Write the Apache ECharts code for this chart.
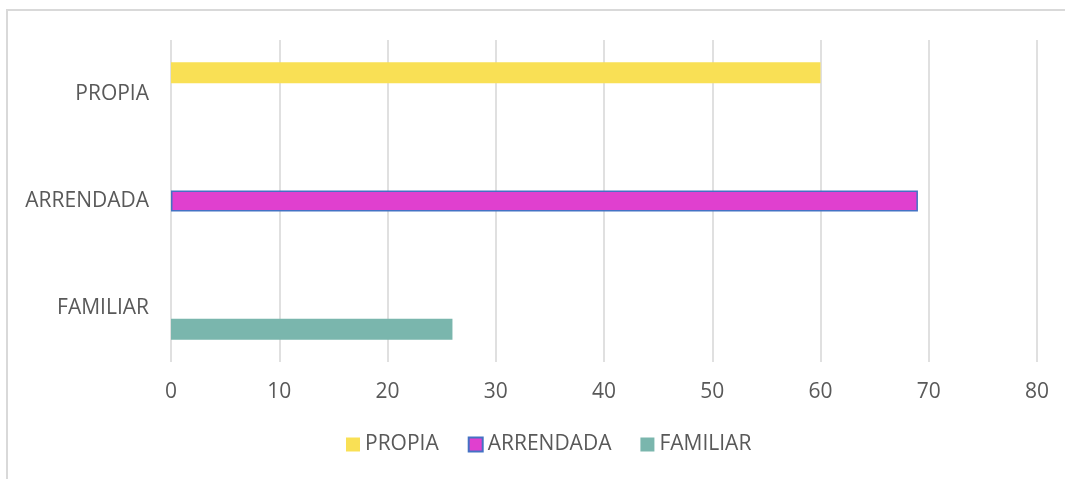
<!DOCTYPE html>
<html>
<head>
<meta charset="utf-8">
<script src="https://cdn.jsdelivr.net/npm/echarts@6/dist/echarts.min.js"></script>
<style>
  html, body { margin: 0; padding: 0; background: #fff; overflow: hidden; }
  #chart { width: 1065px; height: 479px; }
</style>
</head>
<body>
<div id="chart"></div>
<script>
// categories bottom -> top, as the y axis draws them
const categories = ['FAMILIAR', 'ARRENDADA', 'PROPIA']
const seriesNames = ['PROPIA', 'ARRENDADA', 'FAMILIAR']
const propiaValues = [null, null, 60]
const arrendadaValues = [null, 69, null]
const familiarValues = [26, null, null]
const xTicks = [0, 80, 10]

const chart = echarts.init(document.getElementById('chart'))
const font = '"Open Sans", "DejaVu Sans", sans-serif'

const option = {
  animation: false,
  textStyle: { fontFamily: font },
  graphic: [{
    type: 'rect',
    shape: { x: 7, y: 10, width: 1100, height: 500 },
    style: { fill: 'none', stroke: '#d9d9d9', lineWidth: 2 },
    silent: true
  }],
  grid: { left: 171, right: 28, top: 40, bottom: 117 },
  legend: {
    data: seriesNames,
    icon: 'rect',
    bottom: 19,
    left: 341,
    itemWidth: 14,
    itemHeight: 14,
    itemGap: 29,
    textStyle: { fontSize: 21, color: '#595959', fontFamily: font }
  },
  xAxis: {
    type: 'value',
    min: xTicks[0],
    max: xTicks[1],
    interval: xTicks[2],
    axisLine: { show: false },
    axisTick: { show: false },
    axisLabel: { fontSize: 21, color: '#595959', margin: 20, fontFamily: font },
    splitLine: { lineStyle: { color: '#e0e0e0', width: 2 } }
  },
  yAxis: {
    type: 'category',
    data: categories,
    axisLine: { show: false },
    axisTick: { show: false },
    axisLabel: { fontSize: 21, color: '#595959', margin: 22, fontFamily: font }
  },
  series: [
    {
      name: 'PROPIA', type: 'bar', data: propiaValues,
      barWidth: 21, barGap: '0%',
      itemStyle: { color: '#f9e055' }
    },
    {
      name: 'ARRENDADA', type: 'bar', data: arrendadaValues,
      barWidth: 21, barGap: '0%',
      itemStyle: { color: '#e040cf', borderColor: '#4472c4', borderWidth: 1.5 }
    },
    {
      name: 'FAMILIAR', type: 'bar', data: familiarValues,
      barWidth: 21, barGap: '0%',
      itemStyle: { color: '#7ab6ad' }
    }
  ]
}
chart.setOption(option)
</script>
</body>
</html>
